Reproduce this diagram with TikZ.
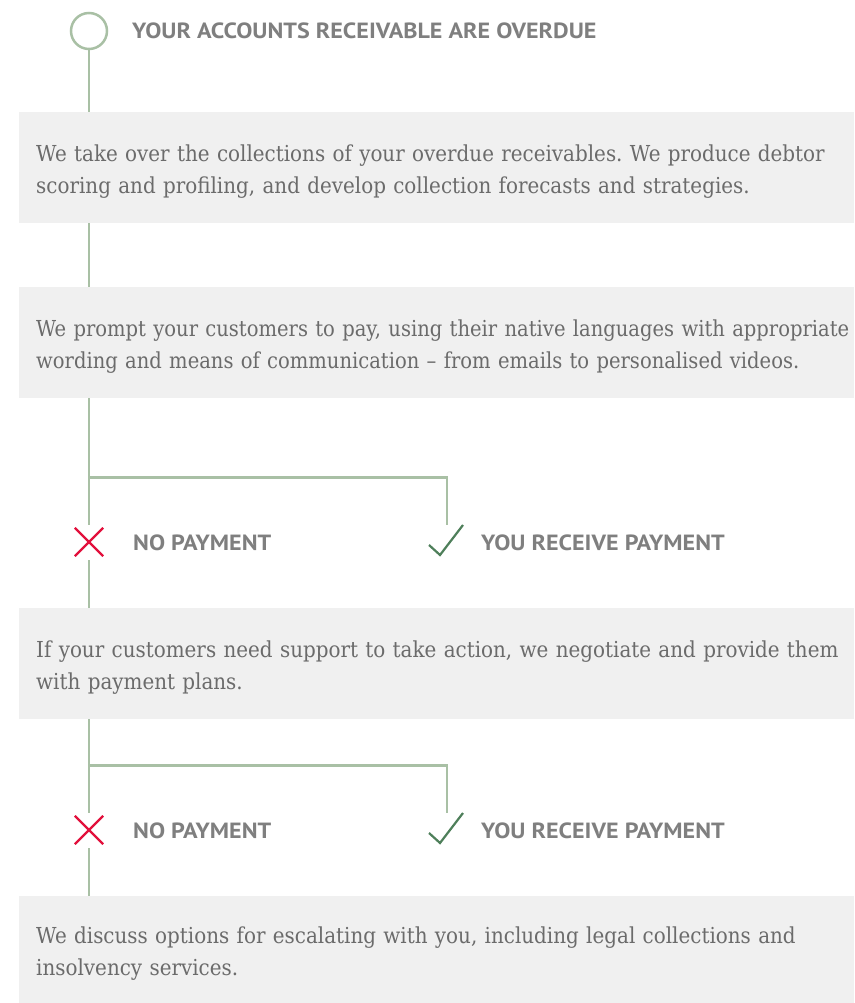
\documentclass[tikz,border=0pt]{standalone}
\usepackage{fontspec}
\usetikzlibrary{calc}
\frenchspacing
\newfontfamily\condfont[FakeStretch=0.905]{DejaVu Serif}
\newfontfamily\widefont[FakeStretch=0.888]{DejaVu Serif}
\newfontfamily\headfont[FakeStretch=1.095]{PT Sans}
\definecolor{spinec}{HTML}{A9C0A5}
\definecolor{boxc}{HTML}{F0F0F0}
\definecolor{txtc}{HTML}{6B6B6B}
\definecolor{headc}{HTML}{7F7F7F}
\definecolor{redc}{HTML}{E2103C}
\definecolor{greenc}{HTML}{4E7F5A}
\tikzset{
  spine/.style={draw=spinec, line width=2.5pt},
  stepbox/.style={fill=boxc, draw=none, anchor=north west, minimum height=111pt,
     minimum width=835pt, inner sep=0pt},
  steptext/.style={anchor=west, text width=830pt, inner sep=0pt, align=left, text=txtc},
  condtext/.style={font=\condfont\fontsize{22}{31.5}\selectfont},
  widetext/.style={font=\widefont\fontsize{22}{31.5}\selectfont},
  headtext/.style={font=\headfont\bfseries\fontsize{22}{24}\selectfont, text=headc, anchor=west, inner sep=0pt},
  xmark/.style={draw=redc, line width=2.2pt},
  xnode/.style={minimum size=28pt, inner sep=0pt, shape=rectangle},
  cnode/.style={minimum width=34pt, minimum height=30pt, inner sep=0pt, shape=rectangle},
  cmark/.style={draw=greenc, line width=2.2pt},
}
\begin{document}
\begin{tikzpicture}[x=1pt, y=-1pt]
\useasboundingbox (0,0) rectangle (854,1003);
\coordinate (sp) at (89,0);
% start circle and title
\node[draw=spinec, line width=2.5pt, circle, minimum size=36pt, inner sep=0pt] (start) at (89,31) {};
\node[headtext] (title) at (132,31) {YOUR ACCOUNTS RECEIVABLE ARE OVERDUE};
% boxes
\node[stepbox] (b1) at (19,112) {};
\node[stepbox] (b2) at (19,287) {};
\node[stepbox] (b3) at (19,608) {};
\node[stepbox, minimum height=107pt] (b4) at (19,896) {};
\node[steptext, condtext] (t1) at ($(b1.west)+(17,4)$) {We take over the collections of your overdue receivables. We produce debtor\\scoring and profiling, and develop collection forecasts and strategies.};
\node[steptext, widetext] (t2) at ($(b2.west)+(17,4)$) {We prompt your customers to pay, using their native languages with appropriate\\wording and means of communication – from emails to personalised videos.};
\node[steptext, condtext] (t3) at ($(b3.west)+(17,4)$) {If your customers need support to take action, we negotiate and provide them\\with payment plans.};
\node[steptext, condtext] (t4) at ($(b4.west)+(17,4)$) {We discuss options for escalating with you, including legal collections and\\insolvency services.};
% branch 1 marks
\node[xnode] (x1) at (89,542) {};
\node[cnode] (c1) at (446,540) {};
\node[headtext] (n1) at (133,543) {NO PAYMENT};
\node[headtext] (y1) at (481,543) {YOU RECEIVE PAYMENT};
% branch 2 marks
\node[xnode] (x2) at (89,830) {};
\node[cnode] (c2) at (446,828) {};
\node[headtext] (n2) at (133,831) {NO PAYMENT};
\node[headtext] (y2) at (481,831) {YOU RECEIVE PAYMENT};
% spine
\draw[spine] (start.south) -- (start.south |- b1.north);
\draw[spine] (b1.south -| sp) -- (b2.north -| sp);
\draw[spine, shorten >=3pt] (b2.south -| sp) -- (x1.north);
\draw[spine] ($(b2.south -| sp)+(0,79)$) coordinate (br1) -| ([xshift=1pt]c1.north);
\draw[spine, shorten <=4pt] (x1.south) -- (b3.north -| sp);
\draw[spine, shorten >=3pt] (b3.south -| sp) -- (x2.north);
\draw[spine] ($(b3.south -| sp)+(0,46)$) coordinate (br2) -| ([xshift=1pt]c2.north);
\draw[spine, shorten <=4pt] (x2.south) -- (b4.north -| sp);
% marks
\foreach \n in {x1,x2}{
  \draw[xmark] (\n.north west) -- (\n.south east);
  \draw[xmark] (\n.north east) -- (\n.south west);
}
\foreach \n in {c1,c2}{
  \draw[cmark] ($(\n.center)+(-17,5)$) -- ($(\n.center)+(-6,15)$) -- ($(\n.center)+(17,-15)$);
}
\end{tikzpicture}
\end{document}
